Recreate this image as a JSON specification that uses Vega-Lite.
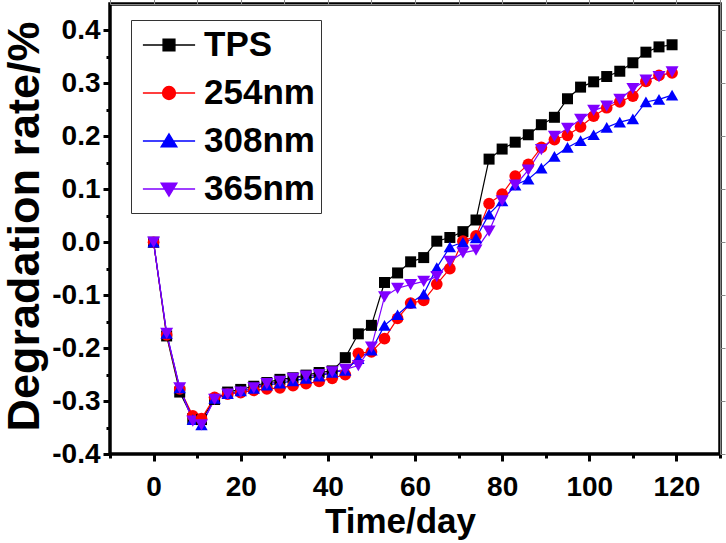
{
  "$schema": "https://vega.github.io/schema/vega-lite/v6.json",
  "autosize": {"type": "none"},
  "width": 610,
  "height": 450,
  "padding": {"left": 110, "top": 4, "right": 6, "bottom": 89},
  "background": "white",
  "config": {
    "view": {"stroke": "#000000", "strokeWidth": 3.5},
    "font": "Liberation Sans",
    "legend": {
      "orient": "none",
      "legendX": 21,
      "legendY": 16,
      "title": null,
      "strokeColor": "#333333",
      "strokeWidth": 1,
      "fillColor": "white",
      "padding": 6,
      "symbolSize": 1296,
      "symbolStrokeWidth": 1.3,
      "symbolOffset": 13,
      "labelOffset": 16,
      "labelFont": "Liberation Sans",
      "labelFontWeight": "bold",
      "labelFontSize": 35,
      "labelColor": "#000000",
      "labelLimit": 0,
      "rowPadding": 11
    }
  },
  "data": {
    "values": [
      {"day": 0, "TPS": 0, "254nm": 0, "308nm": 0, "365nm": 0},
      {"day": 3, "TPS": -0.177, "254nm": -0.175, "308nm": -0.172, "365nm": -0.172},
      {"day": 6, "TPS": -0.283, "254nm": -0.277, "308nm": -0.275, "365nm": -0.275},
      {"day": 9, "TPS": -0.333, "254nm": -0.328, "308nm": -0.335, "365nm": -0.338},
      {"day": 11, "TPS": -0.335, "254nm": -0.333, "308nm": -0.345, "365nm": -0.345},
      {"day": 14, "TPS": -0.297, "254nm": -0.293, "308nm": -0.295, "365nm": -0.297},
      {"day": 17, "TPS": -0.283, "254nm": -0.287, "308nm": -0.286, "365nm": -0.287},
      {"day": 20, "TPS": -0.278, "254nm": -0.284, "308nm": -0.281, "365nm": -0.283},
      {"day": 23, "TPS": -0.272, "254nm": -0.28, "308nm": -0.276, "365nm": -0.275},
      {"day": 26, "TPS": -0.265, "254nm": -0.277, "308nm": -0.27, "365nm": -0.267},
      {"day": 29, "TPS": -0.259, "254nm": -0.275, "308nm": -0.266, "365nm": -0.263},
      {"day": 32, "TPS": -0.256, "254nm": -0.271, "308nm": -0.262, "365nm": -0.257},
      {"day": 35, "TPS": -0.251, "254nm": -0.267, "308nm": -0.257, "365nm": -0.253},
      {"day": 38, "TPS": -0.246, "254nm": -0.263, "308nm": -0.253, "365nm": -0.25},
      {"day": 41, "TPS": -0.243, "254nm": -0.257, "308nm": -0.246, "365nm": -0.245},
      {"day": 44, "TPS": -0.218, "254nm": -0.25, "308nm": -0.242, "365nm": -0.24},
      {"day": 47, "TPS": -0.173, "254nm": -0.21, "308nm": -0.22, "365nm": -0.233},
      {"day": 50, "TPS": -0.157, "254nm": -0.207, "308nm": -0.204, "365nm": -0.198},
      {"day": 53, "TPS": -0.076, "254nm": -0.182, "308nm": -0.157, "365nm": -0.103},
      {"day": 56, "TPS": -0.058, "254nm": -0.144, "308nm": -0.137, "365nm": -0.087},
      {"day": 59, "TPS": -0.037, "254nm": -0.115, "308nm": -0.115, "365nm": -0.08},
      {"day": 62, "TPS": -0.029, "254nm": -0.11, "308nm": -0.098, "365nm": -0.074},
      {"day": 65, "TPS": 0.002, "254nm": -0.079, "308nm": -0.048, "365nm": -0.065},
      {"day": 68, "TPS": 0.009, "254nm": -0.05, "308nm": -0.009, "365nm": -0.036},
      {"day": 71, "TPS": 0.02, "254nm": 0.002, "308nm": 0.0, "365nm": -0.02},
      {"day": 74, "TPS": 0.042, "254nm": 0.012, "308nm": 0.008, "365nm": -0.015},
      {"day": 77, "TPS": 0.157, "254nm": 0.073, "308nm": 0.053, "365nm": 0.021},
      {"day": 80, "TPS": 0.176, "254nm": 0.091, "308nm": 0.078, "365nm": 0.078},
      {"day": 83, "TPS": 0.189, "254nm": 0.125, "308nm": 0.108, "365nm": 0.108},
      {"day": 86, "TPS": 0.203, "254nm": 0.147, "308nm": 0.119, "365nm": 0.136},
      {"day": 89, "TPS": 0.222, "254nm": 0.179, "308nm": 0.14, "365nm": 0.175},
      {"day": 92, "TPS": 0.236, "254nm": 0.194, "308nm": 0.162, "365nm": 0.2},
      {"day": 95, "TPS": 0.271, "254nm": 0.202, "308nm": 0.179, "365nm": 0.215},
      {"day": 98, "TPS": 0.293, "254nm": 0.218, "308nm": 0.192, "365nm": 0.232},
      {"day": 101, "TPS": 0.303, "254nm": 0.238, "308nm": 0.203, "365nm": 0.249},
      {"day": 104, "TPS": 0.313, "254nm": 0.254, "308nm": 0.217, "365nm": 0.257},
      {"day": 107, "TPS": 0.323, "254nm": 0.265, "308nm": 0.227, "365nm": 0.27},
      {"day": 110, "TPS": 0.339, "254nm": 0.276, "308nm": 0.233, "365nm": 0.29},
      {"day": 113, "TPS": 0.359, "254nm": 0.304, "308nm": 0.265, "365nm": 0.306},
      {"day": 116, "TPS": 0.369, "254nm": 0.315, "308nm": 0.27, "365nm": 0.313},
      {"day": 119, "TPS": 0.373, "254nm": 0.32, "308nm": 0.278, "365nm": 0.322}
    ]
  },
  "transform": [
    {"fold": ["TPS", "254nm", "308nm", "365nm"], "as": ["series", "value"]}
  ],
  "layer": [
    {
      "mark": {"type": "line", "strokeWidth": 1.2},
      "encoding": {
        "x": {
          "field": "day", "type": "quantitative",
          "scale": {"domain": [-10, 130], "nice": false},
          "axis": {
            "values": [0, 20, 40, 60, 80, 100, 120],
            "grid": false, "domain": false,
            "tickSize": 7, "tickWidth": 3, "tickColor": "#000",
            "labelFont": "Liberation Sans", "labelFontWeight": "bold", "labelFontSize": 28,
            "labelColor": "#000", "labelPadding": 12,
            "title": "Time/day",
            "titleFont": "Liberation Sans", "titleFontWeight": "bold", "titleFontSize": 35,
            "titleColor": "#000",
            "titleX": 290, "titleY": 78, "titleBaseline": "alphabetic", "titleAlign": "center"
          }
        },
        "y": {
          "field": "value", "type": "quantitative",
          "scale": {"domain": [-0.4, 0.45], "nice": false, "zero": false},
          "axis": {
            "values": [-0.4, -0.3, -0.2, -0.1, 0, 0.1, 0.2, 0.3, 0.4],
            "labelExpr": "(datum.value < -0.0001 ? '-' : '') + format(abs(datum.value), '.1f')",
            "grid": false, "domain": false,
            "tickSize": 7, "tickWidth": 3, "tickColor": "#000",
            "labelFont": "Liberation Sans", "labelFontWeight": "bold", "labelFontSize": 28,
            "labelColor": "#000", "labelPadding": 3,
            "title": "Degradation rate/%",
            "titleFont": "Liberation Sans", "titleFontWeight": "bold", "titleFontSize": 45,
            "titleColor": "#000",
            "titleX": -72, "titleY": 222, "titleAngle": -90,
            "titleBaseline": "alphabetic", "titleAlign": "center"
          }
        },
        "color": {
          "field": "series", "type": "nominal",
          "scale": {"domain": ["TPS", "254nm", "308nm", "365nm"], "range": ["#000000", "#FF0000", "#0000FF", "#8000FF"]},
          "legend": null
        },
        "order": {"field": "day", "type": "quantitative"}
      }
    },
    {
      "mark": {"type": "point", "filled": true, "opacity": 1},
      "encoding": {
        "x": {"field": "day", "type": "quantitative"},
        "y": {"field": "value", "type": "quantitative"},
        "color": {
          "field": "series", "type": "nominal",
          "scale": {"domain": ["TPS", "254nm", "308nm", "365nm"], "range": ["#000000", "#FF0000", "#0000FF", "#8000FF"]},
          "legend": null
        },
        "shape": {
          "field": "series", "type": "nominal",
          "scale": {"domain": ["TPS", "254nm", "308nm", "365nm"], "range": ["square", "circle", "triangle-up", "triangle-down"]},
          "legend": null
        },
        "size": {
          "field": "series", "type": "nominal",
          "scale": {"domain": ["TPS", "254nm", "308nm", "365nm"], "range": [121, 169, 210, 210]},
          "legend": null
        }
      }
    },
    {
      "mark": {"type": "point", "filled": true, "opacity": 1, "size": 0},
      "encoding": {
        "x": {
          "field": "day", "type": "quantitative",
          "axis": {
            "orient": "bottom",
            "values": [-10, 10, 30, 50, 70, 90, 110, 130],
            "labels": false, "grid": false, "domain": false, "title": null,
            "tickSize": 4, "tickWidth": 3, "tickColor": "#000"
          }
        },
        "y": {
          "field": "value", "type": "quantitative",
          "axis": {
            "orient": "left",
            "values": [-0.35, -0.25, -0.15, -0.05, 0.05, 0.15, 0.25, 0.35],
            "labels": false, "grid": false, "domain": false, "title": null,
            "tickSize": 4, "tickWidth": 3, "tickColor": "#000"
          }
        },
        "fill": {
          "field": "series", "type": "nominal",
          "scale": {"domain": ["TPS", "254nm", "308nm", "365nm"], "range": ["#000000", "#FF0000", "#0000FF", "#8000FF"]}
        },
        "stroke": {
          "field": "series", "type": "nominal",
          "scale": {"domain": ["TPS", "254nm", "308nm", "365nm"], "range": ["#000000", "#FF0000", "#0000FF", "#8000FF"]}
        },
        "shape": {
          "field": "series", "type": "nominal",
          "scale": {
            "domain": ["TPS", "254nm", "308nm", "365nm"],
            "range": [
              "M-1.45,0H1.45M-0.33,-0.33H0.33V0.33H-0.33Z",
              "M-1.45,0H1.45M0.36,0A0.36,0.36 0 1,1 -0.36,0A0.36,0.36 0 1,1 0.36,0Z",
              "M-1.45,0H1.45M0,-0.4L0.44,0.33L-0.44,0.33Z",
              "M-1.45,0H1.45M0,0.4L0.44,-0.33L-0.44,-0.33Z"
            ]
          }
        }
      }
    }
  ],
  "resolve": {
    "scale": {"shape": "independent", "fill": "independent", "stroke": "independent"},
    "axis": {"x": "independent", "y": "independent"}
  }
}
